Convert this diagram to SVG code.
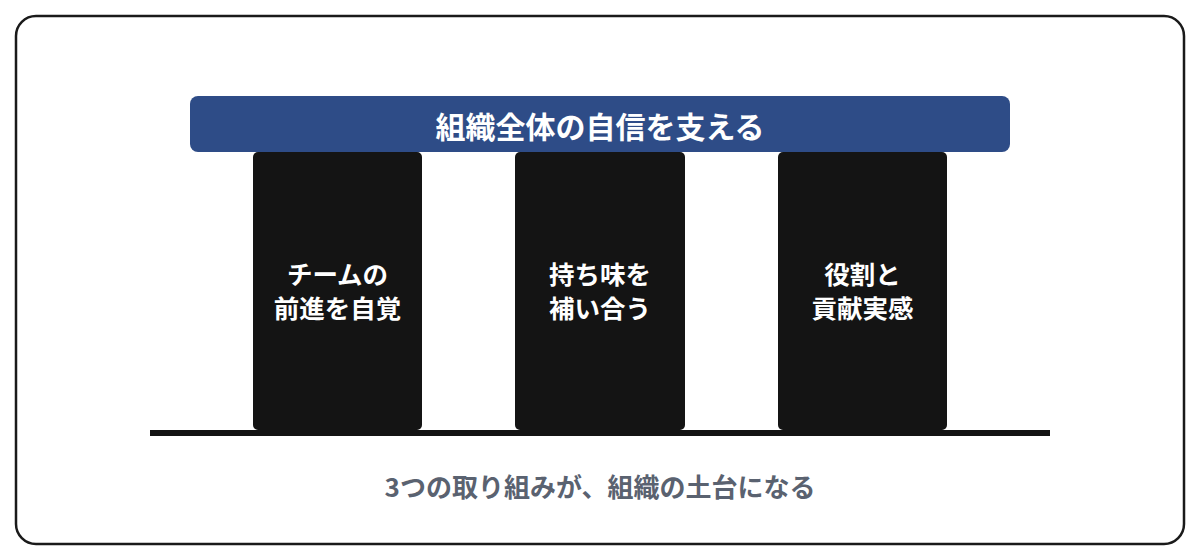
<svg xmlns="http://www.w3.org/2000/svg" width="1200" height="560" viewBox="0 0 1200 560">
  <style>
    .jp { font-family: "Noto Sans CJK JP", "Noto Sans", sans-serif; font-weight: 700; text-anchor: middle; }
    .pillar { fill: #141414; }
    .ptext { fill: #ffffff; font-size: 25.5px; }
  </style>
  <rect x="0" y="0" width="1200" height="560" fill="#ffffff"/>
  <rect id="frame" x="16" y="16" width="1168" height="528" rx="20" ry="20" fill="#ffffff" stroke="#1a1a1a" stroke-width="2.5"/>
  <g id="connectors">
    <rect x="150" y="430" width="900" height="6" fill="#141414"/>
  </g>
  <g id="header">
    <rect x="190" y="96" width="820" height="56" rx="8" ry="8" fill="#2e4c87"/>
    <text class="jp" x="600" y="137.5" font-size="30" fill="#ffffff">組織全体の自信を支える</text>
  </g>
  <g id="pillar1">
    <rect class="pillar" x="253" y="152" width="169" height="278" rx="5" ry="5"/>
    <text class="jp ptext" x="337.5" y="283.5">チームの</text>
    <text class="jp ptext" x="337.5" y="317.5">前進を自覚</text>
  </g>
  <g id="pillar2">
    <rect class="pillar" x="515" y="152" width="170" height="278" rx="5" ry="5"/>
    <text class="jp ptext" x="600" y="283.5">持ち味を</text>
    <text class="jp ptext" x="600" y="317.5">補い合う</text>
  </g>
  <g id="pillar3">
    <rect class="pillar" x="778" y="152" width="169" height="278" rx="5" ry="5"/>
    <text class="jp ptext" x="862.5" y="283.5">役割と</text>
    <text class="jp ptext" x="862.5" y="317.5">貢献実感</text>
  </g>
  <g id="caption">
    <text class="jp" x="600" y="497" font-size="26" fill="#5a6270">3つの取り組みが、組織の土台になる</text>
  </g>
</svg>
